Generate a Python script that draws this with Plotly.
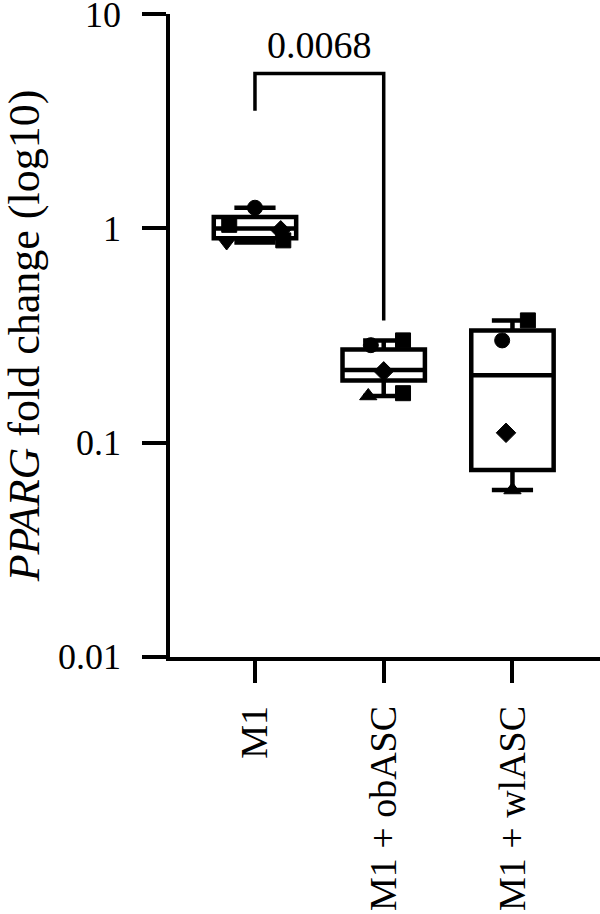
import math
import plotly.graph_objects as go

categories = ["M1", "M1 + obASC", "M1 + wlASC"]
q1 = [0.90, 0.195, 0.0745]
median = [1.00, 0.218, 0.206]
q3 = [1.13, 0.272, 0.334]
lower = [0.86, 0.165, 0.060]
upper = [1.25, 0.300, 0.372]

# individual points per group
pts_m1 = [1.25, 1.04, 0.98, 0.86, 0.88]
pts_ob = [0.300, 0.285, 0.215, 0.170, 0.165]
pts_wl = [0.372, 0.300, 0.111, 0.060]
symbols_m1 = ["circle", "square", "diamond", "triangle-down", "square"]
symbols_ob = ["square", "circle", "diamond", "square", "triangle-up"]
symbols_wl = ["square", "circle", "diamond", "triangle-up"]
offs_m1 = [0.0, -0.2, 0.2, -0.22, 0.22]
offs_ob = [0.15, -0.1, 0.0, 0.15, -0.12]
offs_wl = [0.12, -0.08, -0.05, 0.0]

pvalue_text = "0.0068"
bracket_top = 5.3
bracket_left_end = 3.55
bracket_right_end = 0.372

yticks = [0.01, 0.1, 1, 10]
yticklabels = ["0.01", "0.1", "1", "10"]

FONT = "Liberation Serif"

fig = go.Figure()
for i in range(3):
    fig.add_trace(go.Box(
        x=[i], q1=[q1[i]], median=[median[i]], q3=[q3[i]],
        lowerfence=[lower[i]], upperfence=[upper[i]],
        width=0.64, fillcolor="white",
        line=dict(color="black", width=4.5),
        boxpoints=False, showlegend=False, hoverinfo="skip"))

for i, (vals, syms, offs) in enumerate([(pts_m1, symbols_m1, offs_m1),
                                         (pts_ob, symbols_ob, offs_ob),
                                         (pts_wl, symbols_wl, offs_wl)]):
    fig.add_trace(go.Scatter(
        x=[i + o for o in offs], y=vals, mode="markers",
        marker=dict(color="black", size=15, symbol=syms,
                    line=dict(color="black", width=1)),
        showlegend=False, hoverinfo="skip"))

# significance bracket
fig.add_trace(go.Scatter(
    x=[0, 0, 1, 1],
    y=[bracket_left_end, bracket_top, bracket_top, bracket_right_end],
    mode="lines", line=dict(color="black", width=3.5),
    showlegend=False, hoverinfo="skip"))

fig.add_annotation(x=0.5, y=math.log10(bracket_top), yref="y", text=pvalue_text,
                   showarrow=False, yanchor="bottom", yshift=5,
                   font=dict(family=FONT, size=38, color="black"))

fig.update_layout(
    width=600, height=914,
    margin=dict(l=170, r=0, t=14, b=914 - 657),
    plot_bgcolor="white", paper_bgcolor="white",
    font=dict(family=FONT, size=36, color="black"),
    xaxis=dict(range=[-0.66, 2.68], tickmode="array", tickvals=[0, 1, 2],
               ticktext=categories, tickangle=-90, ticks="outside",
               ticklen=22, tickwidth=3.5, tickcolor="black",
               ticklabelstandoff=8, ticklabeloverflow="allow",
               automargin=False,
               showline=True, linecolor="black", linewidth=3.5,
               showgrid=False, zeroline=False,
               tickfont=dict(family=FONT, size=38)),
    yaxis=dict(type="log", range=[-2.002, 1.002], tickmode="array",
               tickvals=yticks, ticktext=yticklabels, ticks="outside",
               ticklen=24, tickwidth=3.5, tickcolor="black",
               ticklabelstandoff=14, ticklabeloverflow="allow",
               automargin=False,
               showline=True, linecolor="black", linewidth=3.5,
               showgrid=False, zeroline=False,
               tickfont=dict(family=FONT, size=36),
               title=dict(text="<i>PPARG</i> fold change (log10)",
                          font=dict(family=FONT, size=44), standoff=12)),
)

fig.write_html("out.html", config={"displayModeBar": False},
               post_script="document.body.style.margin='0';")
